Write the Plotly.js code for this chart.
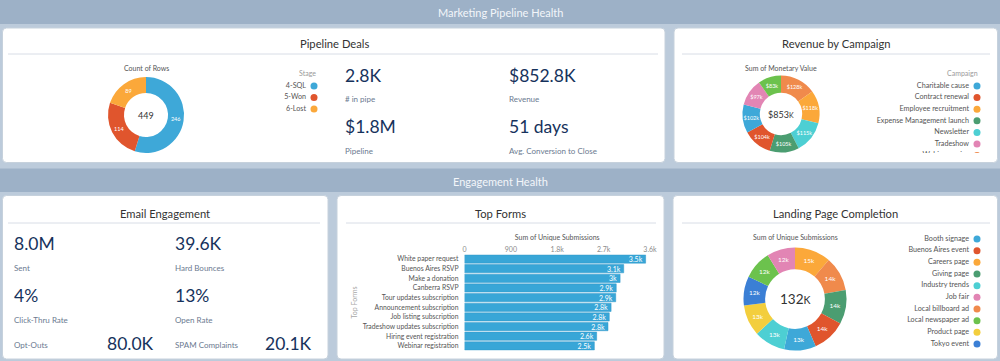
<!DOCTYPE html>
<html><head><meta charset="utf-8">
<script src="https://cdn.plot.ly/plotly-3.0.1.min.js"></script>
<style>html,body{margin:0;padding:0;background:#bccbdb;overflow:hidden}#chart{width:1000px;height:361px}</style>
</head><body><div id="chart"></div>
<script>
// ---------------- DATA ----------------
const stageLabels = ['4-SQL', '5-Won', '6-Lost'];
const stageCounts = [246, 114, 89];

const campaignLabels = ['Charitable cause', 'Contract renewal', 'Employee recruitment', 'Expense Management launch', 'Newsletter', 'Tradeshow', 'Webinar series', 'Whitepaper'];
const campaignRevenueK = [102.2, 104.4, 118.2, 105.3, 115.1, 96.8, 128.4, 82.6];

const formLabels = ['White paper request', 'Buenos Aires RSVP', 'Make a donation', 'Canberra RSVP', 'Tour updates subscription', 'Announcement subscription', 'Job listing subscription', 'Tradeshow updates subscription', 'Hiring event registration', 'Webinar registration'];
const formSubmissions = [3515, 3090, 3020, 2945, 2935, 2845, 2810, 2785, 2565, 2520];
const formTicks = [0, 900, 1800, 2700, 3600];

const pageLabels = ['Booth signage', 'Buenos Aires event', 'Careers page', 'Giving page', 'Industry trends', 'Job fair', 'Local billboard ad', 'Local newspaper ad', 'Product page', 'Tokyo event'];
const pageSubmissionsK = [13.2, 13.9, 15.0, 14.1, 13.0, 11.7, 14.3, 11.9, 12.8, 12.1];

const pipelineKpiValues = ['2.8K', '$852.8K', '$1.8M', '51 days'];
const pipelineKpiLabels = ['# in pipe', 'Revenue', 'Pipeline', 'Avg. Conversion to Close'];
const emailKpiValues = ['8.0M', '39.6K', '4%', '13%'];
const emailKpiLabels = ['Sent', 'Hard Bounces', 'Click-Thru Rate', 'Open Rate'];
const emailFooterLabels = ['Opt-Outs', 'SPAM Complaints'];
const emailFooterValues = ['80.0K', '20.1K'];

// ---------------- STYLE / LAYOUT HELPERS ----------------
const W = 1000, H = 361;
const fx = x => x / W;
const fy = y => 1 - y / H;
const palette = ['#3ea8d8', '#e0552d', '#fba83a', '#4b9d71', '#4dcfd3', '#e285b4', '#f08a4c', '#6cc24d', '#f3ce3d', '#3b7fd5'];
const navy = '#16325c', labelGrey = '#6b7a90', titleCol = '#333333';
const FONT = "Lato, 'Open Sans', sans-serif";
const sum = a => a.reduce((s, v) => s + v, 0);
const smallK = '<span style="font-size:0.78em">K</span>';

function roundRect(x0, y0, x1, y1, r) {
  const p = (x, y) => fx(x) + ',' + fy(y);
  return 'M' + p(x0 + r, y0) + ' L' + p(x1 - r, y0) + ' Q' + p(x1, y0) + ' ' + p(x1, y0 + r) +
    ' L' + p(x1, y1 - r) + ' Q' + p(x1, y1) + ' ' + p(x1 - r, y1) +
    ' L' + p(x0 + r, y1) + ' Q' + p(x0, y1) + ' ' + p(x0, y1 - r) +
    ' L' + p(x0, y0 + r) + ' Q' + p(x0, y0) + ' ' + p(x0 + r, y0) + ' Z';
}
function donutDomain(cx, cy, r) {
  return { x: [fx(cx - r), fx(cx + r)], y: [fy(cy + r), fy(cy - r)] };
}
function ann(x, y, text, size, color, xanchor, extra) {
  return Object.assign({ xref: 'paper', yref: 'paper', x: fx(x), y: fy(y), text: text, showarrow: false,
    xanchor: xanchor || 'center', yanchor: 'middle', font: { size: size, color: color, family: FONT } }, extra || {});
}

const panels = [
  [2.5, 28, 665, 162.5], [674, 28, 997.5, 162.5],
  [2.5, 195.5, 328, 359], [337, 195.5, 664, 359], [673, 195.5, 997.5, 359]
];
const shapes = [
  { type: 'rect', xref: 'paper', yref: 'paper', x0: 0, x1: 1, y0: fy(24), y1: 1, fillcolor: '#9db1c7', line: { width: 0 }, layer: 'below' },
  { type: 'rect', xref: 'paper', yref: 'paper', x0: 0, x1: 1, y0: fy(192), y1: fy(168.5), fillcolor: '#9db1c7', line: { width: 0 }, layer: 'below' }
];
panels.forEach(p => shapes.push({ type: 'path', xref: 'paper', yref: 'paper', path: roundRect(p[0], p[1], p[2], p[3], 4),
  fillcolor: '#ffffff', line: { color: '#c6d1dc', width: 1 }, layer: 'below' }));
[[8, 658, 54], [682, 990, 54], [8, 320, 223], [346, 656, 223], [682, 990, 223]].forEach(s =>
  shapes.push({ type: 'line', xref: 'paper', yref: 'paper', x0: fx(s[0]), x1: fx(s[1]), y0: fy(s[2]), y1: fy(s[2]),
    line: { color: '#d8dde6', width: 1 }, layer: 'below' }));

// ---------------- TRACES ----------------
const pieCommon = {
  type: 'pie', sort: true, direction: 'clockwise', rotation: 0, showlegend: false, hoverinfo: 'none',
  textposition: 'inside', insidetextorientation: 'horizontal', marker: { line: { width: 0 } }
};
const traces = [];
traces.push(Object.assign({}, pieCommon, {
  labels: stageLabels, values: stageCounts, hole: 0.58, domain: donutDomain(146, 115, 38),
  marker: { colors: palette.slice(0, 3), line: { width: 0 } }, textinfo: 'value',
  textfont: { size: 5.5, color: '#ffffff', family: FONT }
}));
traces.push(Object.assign({}, pieCommon, {
  labels: campaignLabels, values: campaignRevenueK, hole: 0.55, domain: donutDomain(781, 114, 38.5),
  marker: { colors: palette.slice(0, 8), line: { width: 0 } }, texttemplate: '$%{value:.0f}k',
  textfont: { size: 5.5, color: '#ffffff', family: FONT }
}));
traces.push(Object.assign({}, pieCommon, {
  labels: pageLabels, values: pageSubmissionsK, hole: 0.58, domain: donutDomain(795, 299, 51.5),
  marker: { colors: palette.slice(0, 10), line: { width: 0 } }, texttemplate: '%{value:.0f}k',
  textfont: { size: 6.5, color: '#ffffff', family: FONT }
}));
traces.push({
  type: 'bar', orientation: 'h', x: formSubmissions, y: formLabels, xaxis: 'x', yaxis: 'y',
  marker: { color: '#38a6d7', line: { color: '#2f97c8', width: 0.5 } },
  texttemplate: '%{x:.2~s}', textposition: 'inside', insidetextanchor: 'end', constraintext: 'none', textangle: 0,
  textfont: { size: 7, color: '#ffffff', family: FONT }, hoverinfo: 'none', showlegend: false, cliponaxis: false
});

// legends (markers on the right, labels right-aligned)
function legend(labels, colors, markerX, textX, y0, step, xa, ya) {
  const ys = labels.map((_, i) => y0 + i * step);
  traces.push({ type: 'scatter', mode: 'text', x: labels.map(() => textX), y: ys, text: labels,
    textposition: 'middle left', textfont: { size: 7.2, color: '#555555', family: FONT },
    xaxis: xa, yaxis: ya, hoverinfo: 'skip', showlegend: false, cliponaxis: true });
  traces.push({ type: 'scatter', mode: 'markers', x: labels.map(() => markerX), y: ys,
    marker: { size: 7, color: colors }, xaxis: xa, yaxis: ya, hoverinfo: 'skip', showlegend: false, cliponaxis: true });
}
legend(stageLabels, palette.slice(0, 3), 314, 306, 86, 11.5, 'x2', 'y2');
legend(campaignLabels, palette.slice(0, 8), 977, 969, 86, 11.6, 'x3', 'y3');
legend(pageLabels, palette.slice(0, 10), 977, 969, 239, 11.67, 'x2', 'y2');

// ---------------- ANNOTATIONS ----------------
const annotations = [
  ann(500, 12.5, 'Marketing Pipeline Health', 11, '#f3f6fa'),
  ann(500, 181, 'Engagement Health', 11, '#f3f6fa'),
  ann(334, 44, 'Pipeline Deals', 11.2, titleCol),
  ann(836, 44, 'Revenue by Campaign', 11.2, titleCol),
  ann(165, 213, 'Email Engagement', 11.2, titleCol),
  ann(500, 213, 'Top Forms', 11.2, titleCol),
  ann(835, 213, 'Landing Page Completion', 11.2, titleCol),
  ann(146, 68, 'Count of Rows', 7, '#555555'),
  ann(781, 68, 'Sum of Monetary Value', 7, '#555555'),
  ann(795, 237, 'Sum of Unique Submissions', 7, '#555555'),
  ann(318, 73, 'Stage', 7, '#9a9a9a', 'right'),
  ann(980, 73, 'Campaign', 7, '#9a9a9a', 'right'),
  ann(146, 115, String(sum(stageCounts)), 9, '#333333'),
  ann(781, 114.5, '$' + Math.round(sum(campaignRevenueK)) + smallK, 9, '#333333'),
  ann(795, 299, Math.round(sum(pageSubmissionsK)) + smallK, 13.5, '#333333')
];
const kpiCols = [343, 507], kpiRows = [75, 127];
pipelineKpiValues.forEach((v, i) => {
  const cx = kpiCols[i % 2], ry = kpiRows[Math.floor(i / 2)];
  annotations.push(ann(cx, ry, v, 17.5, navy, 'left'));
  annotations.push(ann(cx, ry + 24, pipelineKpiLabels[i], 8, labelGrey, 'left'));
});
const eCols = [12, 173], eRows = [243, 295];
emailKpiValues.forEach((v, i) => {
  const cx = eCols[i % 2], ry = eRows[Math.floor(i / 2)];
  annotations.push(ann(cx, ry, v, 17.5, navy, 'left'));
  annotations.push(ann(cx, ry + 25, emailKpiLabels[i], 8, labelGrey, 'left'));
});
const footRight = [156, 314];
emailFooterLabels.forEach((l, i) => {
  annotations.push(ann(eCols[i], 345, l, 8, labelGrey, 'left'));
  annotations.push(ann(footRight[i], 343.5, emailFooterValues[i], 17.5, navy, 'right'));
});

// ---------------- LAYOUT ----------------
const hidden = { visible: false, showgrid: false, zeroline: false, fixedrange: true };
const layout = {
  width: W, height: H, autosize: false, margin: { l: 0, r: 0, t: 0, b: 0, pad: 0 },
  paper_bgcolor: '#bccbdb', plot_bgcolor: 'rgba(0,0,0,0)',
  font: { family: FONT, color: '#444444' },
  showlegend: false,
  xaxis: {
    domain: [fx(464.5), fx(650)], range: [0, 3600], side: 'top', anchor: 'y',
    tickvals: formTicks, tickformat: '.2~s', ticks: '', showgrid: false, zeroline: false, showline: false,
    tickfont: { size: 7, color: '#8c8c8c' },
    title: { text: 'Sum of Unique Submissions', font: { size: 7, color: '#555555' }, standoff: 3 }
  },
  yaxis: {
    domain: [fy(350.7), fy(254.2)], autorange: 'reversed', type: 'category', anchor: 'x',
    ticks: '', showgrid: false, zeroline: false, showline: false, ticklabelstandoff: 5,
    tickfont: { size: 6.8, color: '#555555' },
    title: { text: 'Top Forms', font: { size: 7, color: '#a8a8a8' }, standoff: 4 }
  },
  bargap: 0.14,
  xaxis2: Object.assign({ domain: [0, 1], range: [0, W], anchor: 'y2' }, hidden),
  yaxis2: Object.assign({ domain: [0, 1], range: [H, 0], anchor: 'x2' }, hidden),
  xaxis3: Object.assign({ domain: [0, 1], range: [0, W], anchor: 'y3' }, hidden),
  yaxis3: Object.assign({ domain: [fy(153), fy(60)], range: [153, 60], anchor: 'x3' }, hidden),
  shapes: shapes,
  annotations: annotations
};

Plotly.newPlot('chart', traces, layout, { staticPlot: true, displayModeBar: false });
</script>
</body></html>
